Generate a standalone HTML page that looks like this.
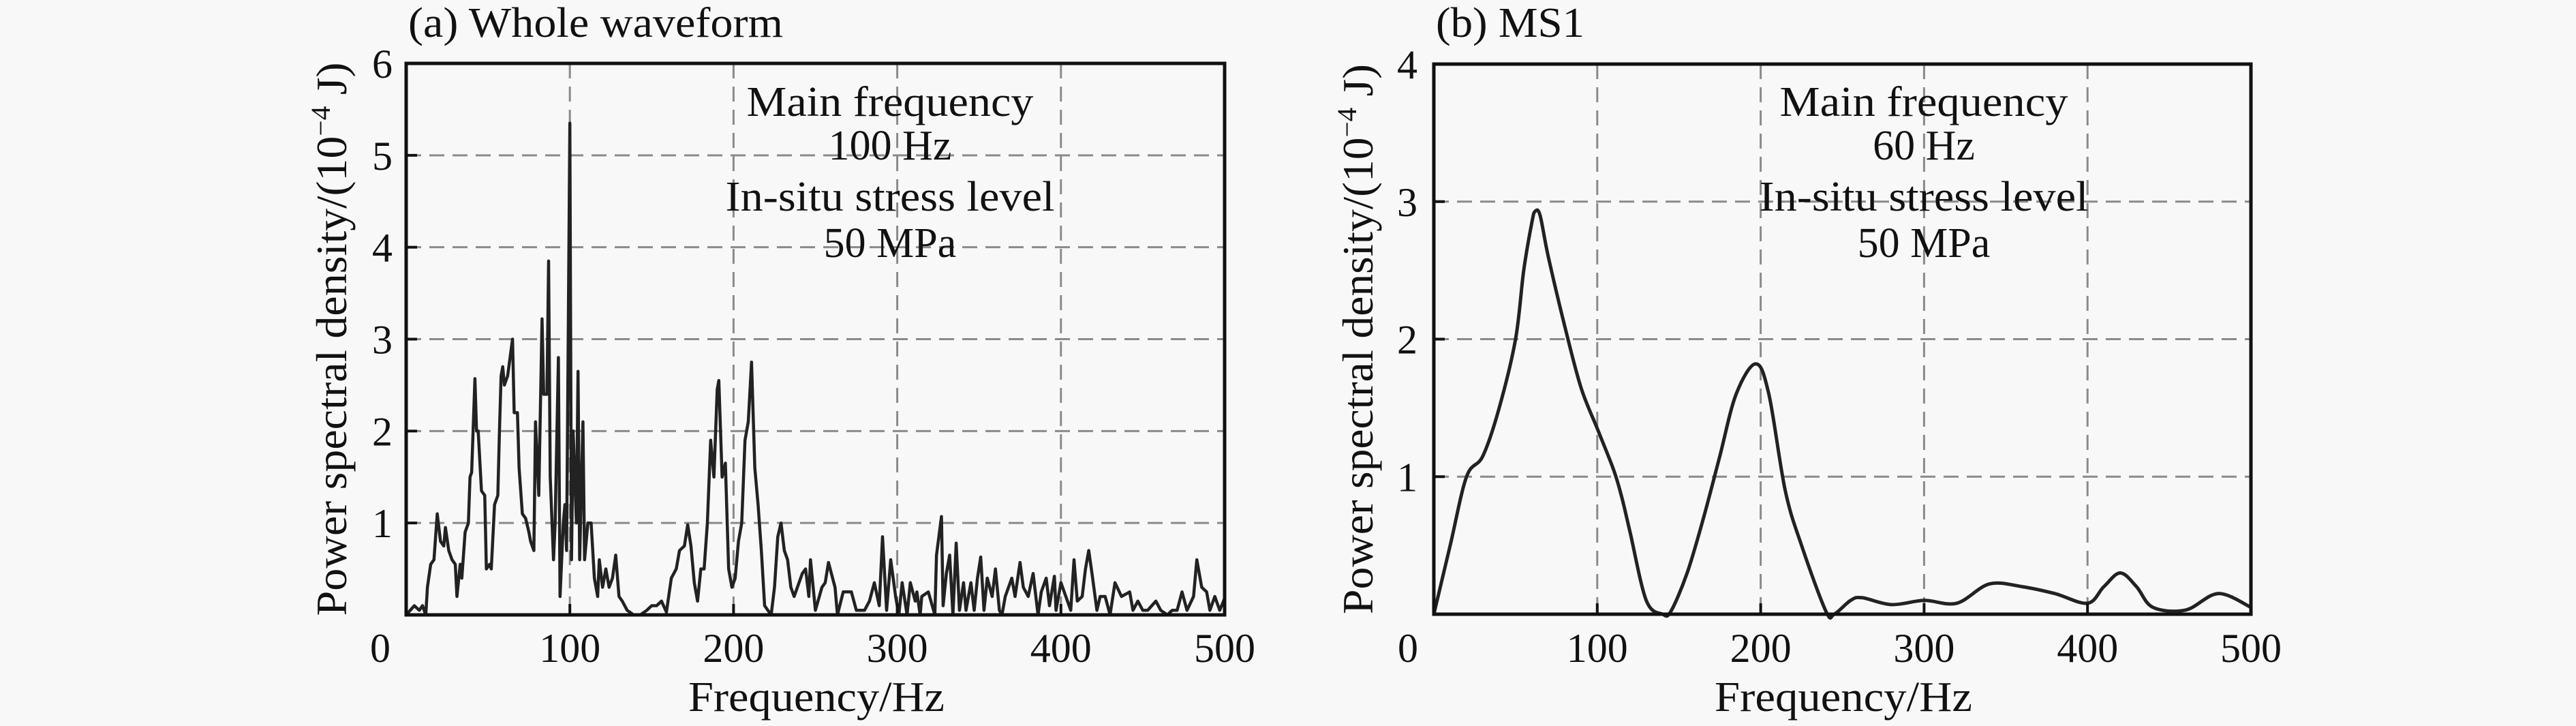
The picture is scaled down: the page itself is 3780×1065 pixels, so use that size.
<!DOCTYPE html>
<html><head><meta charset="utf-8"><style>
html,body{margin:0;padding:0;background:#f8f8f8;}
svg{display:block;font-family:"Liberation Serif",serif;}
</style></head><body>
<svg id="fig" width="3780" height="1065" viewBox="0 0 3780 1065" xmlns="http://www.w3.org/2000/svg">
<rect x="0" y="0" width="3780" height="1065" fill="#f8f8f8"/>
<g id="panelA"></g>
<g id="panelB"></g>
</svg>
<script>
// Panel (a) data: frequency (Hz) and PSD (1e-4 J)
const freqA = [0,5,8,10,12,13,15,17,19,21,23,24,26,28,30,31,33,34,36,38,39,40,42,43,44,46,48,49,51,52,54,56,57,58,59,60,62,65,66,68,69,71,73,75,76,78,79,81,83,84,86,87,88,90,91,93,94,96,97,98,100,101,102,104,105,106,108,109,111,113,115,117,118,120,122,124,126,128,130,132,135,139,143,147,150,153,156,159,162,165,167,170,172,174,176,178,180,182,184,186,188,190,191,193,195,197,199,201,203,205,207,209,211,213,215,217,219,221,223,225,227,229,231,233,235,237,239,242,244,246,247,250,254,256,258,262,263.5,267,272,275,280,283,286,289,291,293.5,296,299,301,303,306,308,311,312,314,315,319,323,324,327,328,330,332,334,336,338,340.5,342,345,347,349,351,353,355,358,360,362.4,364,366,370,372,375,377,380,383,386,388,391,393,396,397,400,403,406,408,410,413,415,417,419,422,424,427,430,433,437,442,444,447,450,453,458,461,465,468,471,474,477,481,483,486,489,491,494,497,500];
const psdA = [0,0.1,0.05,0.1,0,0.3,0.55,0.6,1.1,0.8,0.75,0.95,0.7,0.6,0.55,0.2,0.55,0.4,0.9,1.0,1.5,1.55,2.57,2.0,2.0,1.35,1.3,0.5,0.55,0.5,1.2,1.3,2.0,2.6,2.7,2.5,2.6,3.0,2.2,2.2,1.6,1.1,1.05,0.9,0.8,0.7,2.1,1.3,3.22,2.4,2.4,3.85,1.5,0.6,1.0,2.8,0.2,1.0,1.2,0.7,5.35,0.6,2.0,1.0,2.65,0.6,2.1,0.6,1.0,1.0,0.4,0.2,0.6,0.3,0.5,0.3,0.4,0.65,0.2,0.15,0.05,0,0,0.05,0.1,0.1,0.15,0.03,0.4,0.5,0.7,0.75,0.98,0.75,0.35,0.15,0.5,0.5,1.0,1.9,1.5,2.45,2.55,1.5,1.65,0.5,0.3,0.4,0.8,1.0,1.9,2.1,2.75,1.6,1.2,0.7,0.1,0.05,0,0.3,0.85,1.0,0.7,0.6,0.3,0.2,0.3,0.45,0.5,0.2,0.6,0.05,0.3,0.35,0.57,0.3,0,0.25,0.25,0.05,0.05,0.15,0.35,0.1,0.85,0.05,0.6,0.2,0,0.35,0,0.35,0.15,0.25,0,0.2,0.25,0,0.65,1.07,0.1,0.45,0.65,0,0.78,0.05,0.35,0.05,0.35,0.05,0.4,0.63,0.05,0.4,0.2,0.5,0.05,0,0.2,0.4,0.2,0.57,0.3,0.2,0.45,0,0.25,0.4,0.1,0.42,0.05,0.35,0.2,0.05,0.6,0.15,0.2,0.5,0.7,0.45,0.05,0.2,0.2,0,0.35,0.2,0.25,0.05,0.15,0.05,0.05,0.15,0.05,0,0.05,0.05,0.25,0.05,0.2,0.6,0.3,0.25,0.05,0.2,0.05,0.18];
// Panel (b) data
const freqB = [0,10,20,30,40,50,55,60,62,65,70,80,90,100,110,115,120,130,140,145,155,165,175,185,197,205,215,225,240,245,255,262,280,300,320,340,360,380,400,410,420,430,440,460,480,500];
const psdB = [0,0.5,1.0,1.15,1.5,2.0,2.5,2.85,2.93,2.9,2.6,2.1,1.65,1.35,1.05,0.85,0.6,0.1,0,0.02,0.3,0.7,1.15,1.6,1.82,1.6,0.9,0.5,0.02,0,0.1,0.12,0.07,0.1,0.08,0.22,0.2,0.15,0.08,0.2,0.3,0.2,0.05,0.03,0.15,0.05];
const xTicks = [0,100,200,300,400,500];
const yTicksA = [0,1,2,3,4,5,6];
const yTicksB = [0,1,2,3,4];

const NS="http://www.w3.org/2000/svg";
function mk(tag, parent, attrs, text){
  const e=document.createElementNS(NS,tag);
  for(const k in attrs) e.setAttribute(k,attrs[k]);
  if(text!==undefined) e.textContent=text;
  parent.appendChild(e); return e;
}

function drawPanel(g, cfg){
  const {x0,x1,y0,y1,ymax,yTicks,freq,psd,smooth,labelX,title,titleLen,ann,annX,annLens,tickLabelRight,zeroX,xlabSpan,ylabLen} = cfg;
  const sx=v=>x0+(v/500)*(x1-x0);
  const sy=v=>y1-(v/ymax)*(y1-y0);
  xTicks.slice(1,-1).forEach(t=>{
    const l=mk('line',g,{x1:sx(t),x2:sx(t),y1:y0,y2:y1,stroke:'#8a8a8a','stroke-width':3,'stroke-dasharray':'22 12'});
    
    
  });
  yTicks.slice(1,-1).forEach(t=>{
    const l=mk('line',g,{x1:x0,x2:x1,y1:sy(t),y2:sy(t),stroke:'#8a8a8a','stroke-width':3,'stroke-dasharray':'22 12'});
    
    
  });
  let d='';
  if(!smooth){
    freq.forEach((f,i)=>{d+=(i?'L':'M')+sx(f).toFixed(1)+','+sy(psd[i]).toFixed(1);});
  } else {
    const P=freq.map((f,i)=>[sx(f),sy(psd[i])]);
    d='M'+P[0][0]+','+P[0][1];
    for(let i=0;i<P.length-1;i++){
      const p0=P[Math.max(0,i-1)],p1=P[i],p2=P[i+1],p3=P[Math.min(P.length-1,i+2)];
      const c1=[p1[0]+(p2[0]-p0[0])/6,p1[1]+(p2[1]-p0[1])/6];
      const c2=[p2[0]-(p3[0]-p1[0])/6,p2[1]-(p3[1]-p1[1])/6];
      d+='C'+c1[0].toFixed(1)+','+c1[1].toFixed(1)+' '+c2[0].toFixed(1)+','+c2[1].toFixed(1)+' '+p2[0].toFixed(1)+','+p2[1].toFixed(1);
    }
  }
  const line=mk('path',g,{d:d,fill:'none',stroke:'#222','stroke-width':smooth?5:4.5,'stroke-linejoin':'round'});
  
  
  const fr=mk('rect',g,{x:x0,y:y0,width:x1-x0,height:y1-y0,fill:'none',stroke:'#111','stroke-width':5});
  
  
  yTicks.forEach(t=>{
    const tk=mk('line',g,{x1:x0,x2:x0+16,y1:sy(t),y2:sy(t),stroke:'#111','stroke-width':4});
    
    
    const tl=mk('text',g,{x:tickLabelRight,y:sy(t)+21,'font-size':60,'text-anchor':'end',fill:'#111'},String(t));
    if(t===0) tl.setAttribute('display','none');
    
    
  });
  xTicks.forEach(t=>{
    const tk=mk('line',g,{x1:sx(t),x2:sx(t),y1:y1,y2:y1-16,stroke:'#111','stroke-width':4});
    
    
    const tl=mk('text',g,{x:t===0?zeroX:sx(t),y:971,'font-size':60,'text-anchor':'middle',fill:'#111'},String(t));
    
    
  });
  const xt=mk('text',g,{x:xlabSpan[0],y:1043,'font-size':62,fill:'#111',textLength:xlabSpan[1]-xlabSpan[0],lengthAdjust:'spacingAndGlyphs'},'Frequency/Hz');
  
  
  const yt=mk('text',g,{x:0,y:0,'font-size':64,fill:'#111','text-anchor':'middle',textLength:ylabLen,lengthAdjust:'spacingAndGlyphs',transform:`translate(${labelX},${(y0+y1)/2}) rotate(-90)`});
  
  
  mk('tspan',yt,{},'Power spectral density/(10');
  mk('tspan',yt,{'font-size':40,dy:-24},'\u22124');
  mk('tspan',yt,{dy:24},' J)');
  const tt=mk('text',g,{x:x0+3,y:54,'font-size':62,fill:'#111',textLength:titleLen,lengthAdjust:'spacingAndGlyphs'},title);
  
  
  const bases=[170,234,309,377];
  ann.forEach((s,i)=>{
    const a=mk('text',g,{x:annX,y:bases[i],'font-size':62,fill:'#111','text-anchor':'middle'},s);
    if(annLens[i]) { a.setAttribute('textLength',annLens[i]); a.setAttribute('lengthAdjust','spacingAndGlyphs'); }
    
    
  });
}

drawPanel(document.getElementById('panelA'),{x0:596,x1:1797,y0:93,y1:902,ymax:6,yTicks:yTicksA,freq:freqA,psd:psdA,smooth:false,
  labelX:508,title:'(a) Whole waveform',titleLen:550,ann:['Main frequency','100 Hz','In-situ stress level','50 MPa'],annX:1306,annLens:[421,0,483,0],
  tickLabelRight:576,zeroX:558,xlabSpan:[1010,1386],ylabLen:812});
drawPanel(document.getElementById('panelB'),{x0:2104,x1:3303,y0:94,y1:901,ymax:4,yTicks:yTicksB,freq:freqB,psd:psdB,smooth:true,
  labelX:2014,title:'(b) MS1',titleLen:218,ann:['Main frequency','60 Hz','In-situ stress level','50 MPa'],annX:2823,annLens:[423,0,483,0],
  tickLabelRight:2080,zeroX:2066,xlabSpan:[2516,2894],ylabLen:807});
</script>
</body></html>
